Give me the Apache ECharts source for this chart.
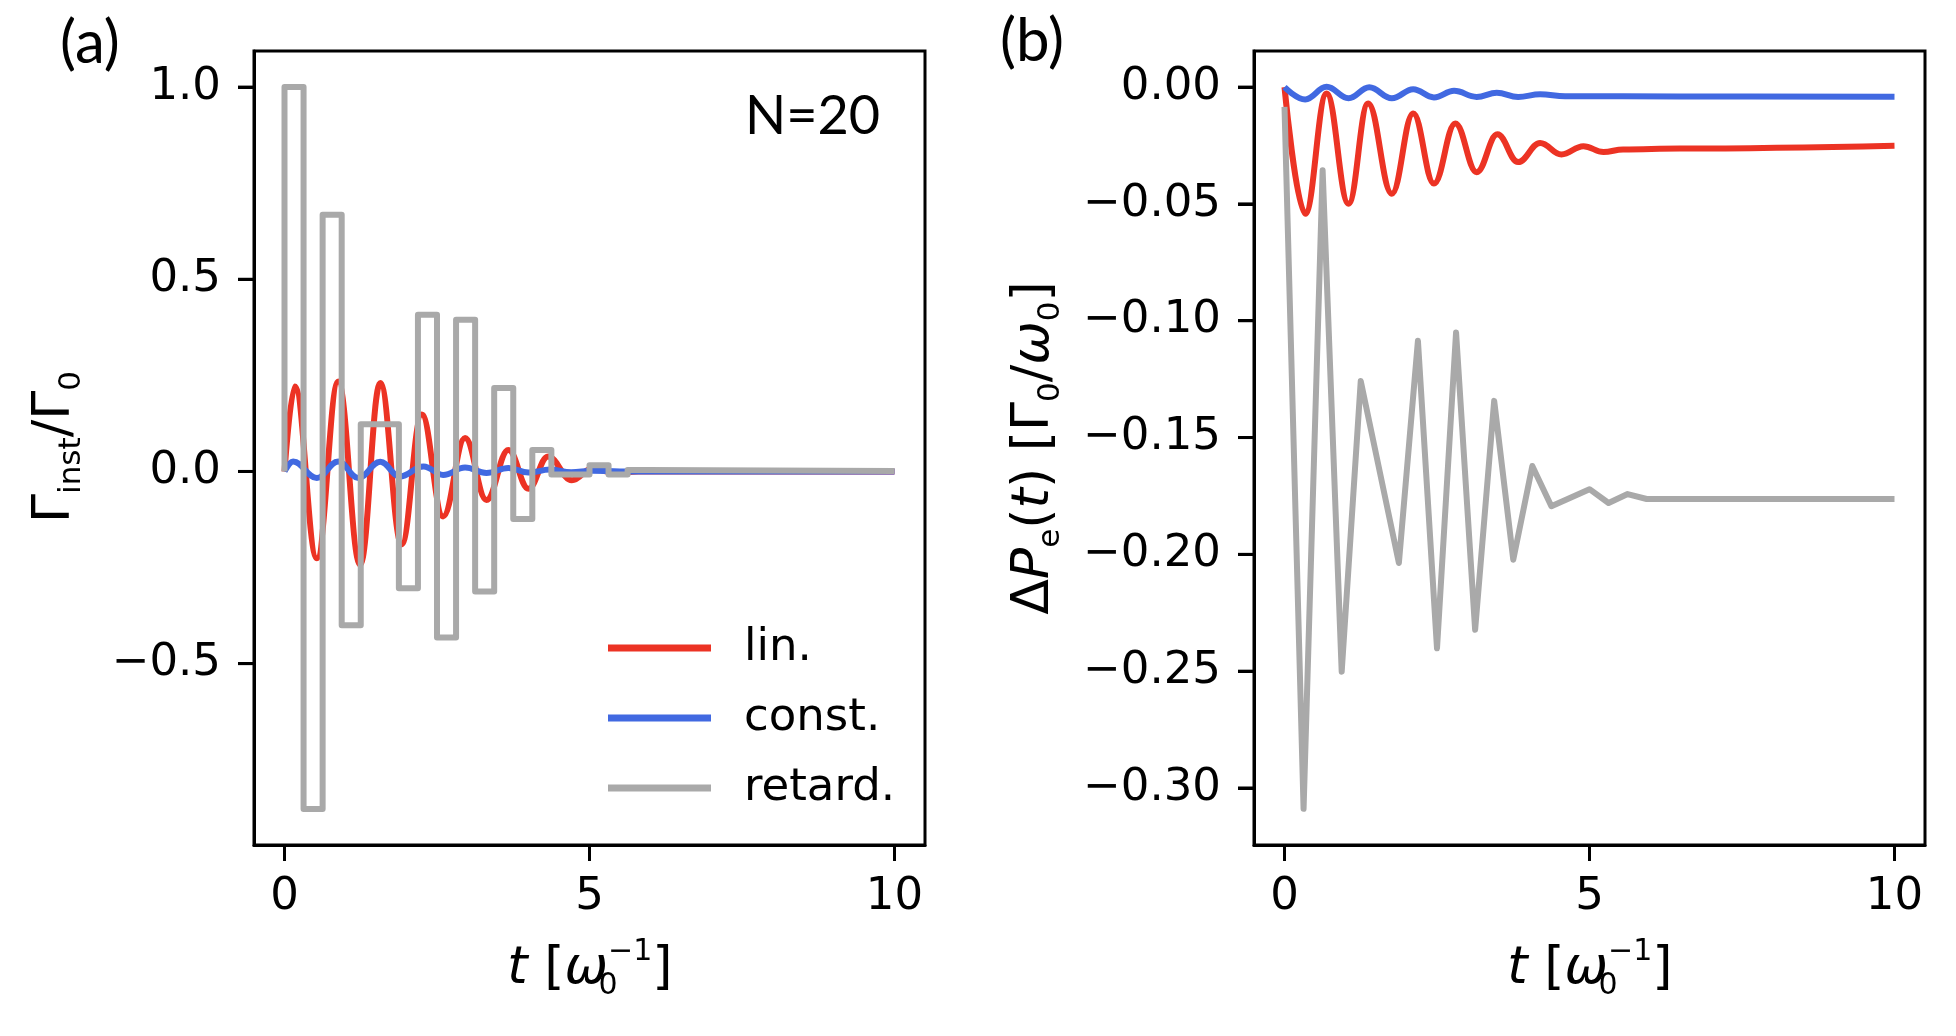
<!DOCTYPE html>
<html>
<head>
<meta charset="utf-8">
<script src="https://cdn.jsdelivr.net/npm/echarts@6/dist/echarts.min.js"></script>
<style>
html,body{margin:0;padding:0;background:#fff;}
#chart{width:1956px;height:1036px;background:#fff;}
</style>
</head>
<body>
<div id="chart"></div>
<script>
// ---------- data ----------
// panel (a): instantaneous rate Γ_inst/Γ_0
const linA_t   = [0, 0.17, 0.53, 0.88, 1.24, 1.57, 1.92, 2.25, 2.60, 2.96, 3.31, 3.67, 4.00, 4.32, 4.71, 5.05, 5.40, 5.80, 10];
const linA_v   = [0, 0.221, -0.226, 0.234, -0.243, 0.230, -0.190, 0.148, -0.117, 0.087, -0.074, 0.056, -0.045, 0.039, -0.023, 0.008, -0.004, 0, 0];
const constA_t = [0, 0.14, 0.53, 0.88, 1.21, 1.57, 1.89, 2.28, 2.60, 2.96, 3.31, 3.67, 4.00, 4.35, 4.70, 5.05, 5.50, 10];
const constA_v = [0, 0.026, -0.017, 0.026, -0.017, 0.025, -0.013, 0.013, -0.009, 0.010, -0.004, 0.009, -0.003, 0.005, -0.002, 0.002, 0, 0];
const retardA_t = [0, 0, 0.3125, 0.625, 0.9375, 1.25, 1.875, 2.1875, 2.5, 2.8125, 3.125, 3.4375, 3.75, 4.0625, 4.375, 5.0, 5.3125, 5.625, 5.9375, 10];
const retardA_v = [0, 1.0, -0.878, 0.668, -0.400, 0.123, -0.304, 0.408, -0.432, 0.395, -0.3125, 0.217, -0.124, 0.056, -0.008, 0.016, -0.008, 0.004, 0.001, 0.001];

// panel (b): ΔP_e(t)
const linB_t   = [0, 0.34, 0.69, 1.05, 1.37, 1.76, 2.11, 2.45, 2.80, 3.15, 3.49, 3.83, 4.19, 4.54, 4.90, 5.23, 5.55, 6.48, 10];
const linB_v   = [0, -0.0542, -0.0027, -0.0499, -0.0070, -0.0456, -0.0113, -0.0413, -0.0156, -0.0364, -0.0202, -0.0321, -0.0239, -0.0288, -0.0253, -0.0278, -0.0267, -0.0263, -0.0251];
const constB_t = [0, 0.34, 0.69, 1.05, 1.39, 1.76, 2.11, 2.45, 2.78, 3.15, 3.48, 3.83, 4.19, 4.60, 6.48, 10];
const constB_v = [0, -0.0053, 0.0001, -0.0048, -0.0001, -0.0048, -0.0009, -0.0044, -0.0016, -0.0042, -0.0024, -0.0042, -0.0031, -0.0039, -0.0040, -0.0041];
const retardB_t = [0, 0.3125, 0.625, 0.9375, 1.25, 1.875, 2.1875, 2.5, 2.8125, 3.125, 3.4375, 3.75, 4.0625, 4.375, 5.0, 5.3125, 5.625, 5.9375, 10];
const retardB_v = [-0.0085, -0.3089, -0.0356, -0.2502, -0.1258, -0.2037, -0.1086, -0.2402, -0.1050, -0.2323, -0.1343, -0.2023, -0.1622, -0.1794, -0.1721, -0.1780, -0.1742, -0.1763, -0.1763];

const seriesNames = ['lin.', 'const.', 'retard.'];
const xTicks  = [0, 5, 10];
const yTicksA = [-0.5, 0.0, 0.5, 1.0];
const yTicksB = [-0.30, -0.25, -0.20, -0.15, -0.10, -0.05, 0.00];

// axis ranges (matplotlib-like 5% margins)
const X_MIN = -0.5, X_MAX = 10.5;
const YA_MIN = -0.9719, YA_MAX = 1.0939;
const YB_MIN = -0.3244, YB_MAX = 0.01545;

// ---------- styling ----------
const RED = '#ec3324', BLUE = '#4169e1', GRAY = '#a9a9a9';
const FONT = 'DejaVu Sans';
const LW = 6, TICK_LEN = 16, TICK_W = 3;
const zip = (t, v) => t.map((x, i) => [x, v[i]]);
const minus = s => s.replace('-', '\u2212');

const chart = echarts.init(document.getElementById('chart'), null, {renderer: 'canvas'});

function xAxis(gi) {
  return {
    type: 'value', gridIndex: gi, min: X_MIN, max: X_MAX,
    axisLine: {show: true, onZero: false, lineStyle: {color: '#000', width: 3}},
    splitLine: {show: false},
    axisTick: {show: true, length: TICK_LEN, customValues: xTicks, lineStyle: {color: '#000', width: TICK_W}},
    axisLabel: {show: true, customValues: xTicks, margin: 30, fontFamily: FONT, fontSize: 45, lineHeight: 45, color: '#000',
                formatter: v => String(Math.round(v))}
  };
}
function yAxis(gi, min, max, ticks, dec) {
  return {
    type: 'value', gridIndex: gi, min: min, max: max,
    axisLine: {show: true, onZero: false, lineStyle: {color: '#000', width: 3}},
    splitLine: {show: false},
    axisTick: {show: true, length: TICK_LEN, customValues: ticks, lineStyle: {color: '#000', width: TICK_W}},
    axisLabel: {show: true, customValues: ticks, margin: 33, fontFamily: FONT, fontSize: 45, lineHeight: 45, color: '#000',
                formatter: v => minus((Math.abs(v) < 1e-9 ? 0 : v).toFixed(dec))}
  };
}
function line(name, color, data, xi, extra) {
  return Object.assign({
    name: name, type: 'line', xAxisIndex: xi, yAxisIndex: xi, data: data,
    showSymbol: false, symbol: 'none', animation: false,
    lineStyle: {color: color, width: LW, cap: 'butt', join: 'round'},
    itemStyle: {color: color}, z: 2
  }, extra || {});
}

const rich = {
  r:  {fontFamily: FONT, fontSize: 52, lineHeight: 64, verticalAlign: 'middle', color: '#000'},
  i:  {fontFamily: FONT, fontStyle: 'italic', fontSize: 52, lineHeight: 64, verticalAlign: 'middle', color: '#000'},
  sb: {fontFamily: FONT, fontSize: 31, lineHeight: 41, verticalAlign: 'bottom', color: '#000'},
  s0: {fontFamily: FONT, fontSize: 30, lineHeight: 29, verticalAlign: 'bottom', width: 0, color: '#000'},
  sp: {fontFamily: FONT, fontSize: 30, lineHeight: 46, verticalAlign: 'top', color: '#000'}
};
function label(id, text, x, y, rot) {
  return {id: id, type: 'text', x: x, y: y, rotation: rot || 0, z: 10,
    style: {text: text, rich: rich, align: 'center', textAlign: 'center', verticalAlign: 'middle', textVerticalAlign: 'middle'}};
}
function panelText(id, text, x, y, size) {
  return {id: id, type: 'text', x: x, y: y, z: 10,
    style: {text: text, fontFamily: 'Lato', fontSize: size, fill: '#000', align: 'left', textAlign: 'left', verticalAlign: 'middle', textVerticalAlign: 'middle'}};
}
const xName = '{i|t}{r| [}{i|ω}{s0|0}{sp|\u22121}{r|]}';

const option = {
  animation: false,
  grid: [
    {left: 254, top: 51, width: 671, height: 794, show: true, borderColor: '#000', borderWidth: 3, backgroundColor: 'transparent'},
    {left: 1254, top: 51, width: 671, height: 794, show: true, borderColor: '#000', borderWidth: 3, backgroundColor: 'transparent'}
  ],
  xAxis: [xAxis(0), xAxis(1)],
  yAxis: [yAxis(0, YA_MIN, YA_MAX, yTicksA, 1), yAxis(1, YB_MIN, YB_MAX, yTicksB, 2)],
  legend: {
    data: seriesNames, orient: 'vertical', left: 603, top: 618,
    itemWidth: 103, itemHeight: 7, itemGap: 20, icon: 'rect',
    textStyle: {fontFamily: FONT, fontSize: 45, lineHeight: 50, color: '#000', padding: [0, 0, 0, 28]},
    selectedMode: false
  },
  series: [
    line('lin.', RED, zip(linA_t, linA_v), 0, {smooth: 0.4, smoothMonotone: 'x'}),
    line('const.', BLUE, zip(constA_t, constA_v), 0, {smooth: 0.4, smoothMonotone: 'x'}),
    line('retard.', GRAY, zip(retardA_t, retardA_v), 0, {step: 'end'}),
    line('lin.', RED, zip(linB_t, linB_v), 1, {smooth: 0.4, smoothMonotone: 'x'}),
    line('const.', BLUE, zip(constB_t, constB_v), 1, {smooth: 0.4, smoothMonotone: 'x'}),
    line('retard.', GRAY, zip(retardB_t, retardB_v), 1, {})
  ],
  graphic: [
    label('xa', xName, 590, 969, 0),
    label('xb', xName, 1590, 969, 0),
    label('ya', '{r|Γ}{sb|inst}{r|/Γ}{sb|0}', 55, 447, Math.PI / 2),
    label('yb', '{r|Δ}{i|P}{sb|e}{r|(}{i|t}{r|)}{r| [Γ}{sb|0}{r|/}{i|ω}{sb|0}{r|]}', 1034, 448, Math.PI / 2),
    panelText('pa', '(a)', 60, 44, 60),
    panelText('pb', '(b)', 1000, 42, 60),
    panelText('nn', 'N=20', 745, 117, 54)
  ]
};
chart.setOption(option);

// extra safety: tick marks also placed through the chart's own scales (identical overlap if axis ticks render)
try {
  const els = [];
  let k = 0;
  const add = (gi, ticks, isX, other) => ticks.forEach(v => {
    const p = chart.convertToPixel({gridIndex: gi}, isX ? [v, other] : [other, v]);
    if (!p || !isFinite(p[0]) || !isFinite(p[1])) return;
    els.push({id: 'tk' + (k++), type: 'line', z: 20, silent: true,
      shape: isX ? {x1: p[0], y1: p[1], x2: p[0], y2: p[1] + TICK_LEN} : {x1: p[0], y1: p[1], x2: p[0] - TICK_LEN, y2: p[1]},
      style: {stroke: '#000', lineWidth: TICK_W}});
  });
  add(0, xTicks, true, YA_MIN); add(0, yTicksA, false, X_MIN);
  add(1, xTicks, true, YB_MIN); add(1, yTicksB, false, X_MIN);
  if (els.length) chart.setOption({graphic: els});
} catch (e) { /* axis ticks remain */ }
</script>
</body>
</html>
